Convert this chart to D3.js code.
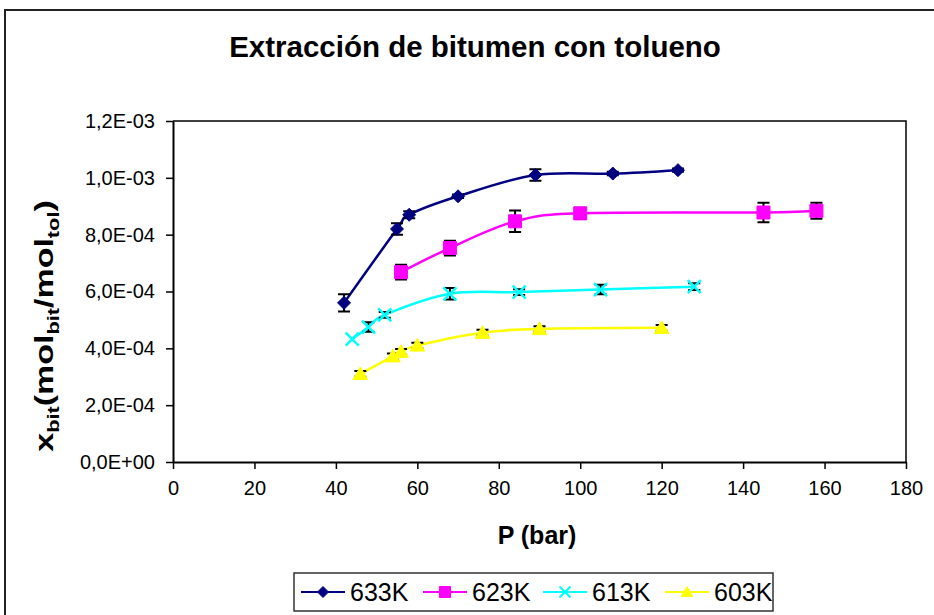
<!DOCTYPE html>
<html>
<head>
<meta charset="utf-8">
<script src="https://cdn.jsdelivr.net/npm/d3@7"></script>
<style>
  body { margin: 0; background: #fff; }
  svg { display: block; font-family: "Liberation Sans", Arial, sans-serif; }
</style>
</head>
<body>
<div class="svg-div"></div>
<script>
// data (P in bar, x_bit in mol/mol)
var seriesNames = ["633K", "623K", "613K", "603K"]

var p633 = [42, 55, 58, 70, 89, 108, 124]
var x633 = [5.6e-4, 8.2e-4, 8.7e-4, 9.35e-4, 1.01e-3, 1.015e-3, 1.027e-3]
var e633 = [0.3e-4, 0.2e-4, 0.12e-4, 0.06e-4, 0.2e-4, 0.06e-4, 0.06e-4]

var p623 = [56, 68, 84, 100, 145, 158]
var x623 = [6.68e-4, 7.53e-4, 8.47e-4, 8.75e-4, 8.78e-4, 8.84e-4]
var e623 = [0.26e-4, 0.26e-4, 0.38e-4, 0.2e-4, 0.34e-4, 0.28e-4]

var p613 = [44, 48, 52, 68, 85, 105, 128]
var x613 = [4.32e-4, 4.75e-4, 5.18e-4, 5.92e-4, 5.98e-4, 6.07e-4, 6.17e-4]
var e613 = [0, 0.17e-4, 0.1e-4, 0.2e-4, 0.1e-4, 0.17e-4, 0.12e-4]

var p603 = [46, 54, 56, 60, 76, 90, 120]
var x603 = [3.1e-4, 3.72e-4, 3.88e-4, 4.1e-4, 4.55e-4, 4.68e-4, 4.72e-4]
var e603 = [0.1e-4, 0.1e-4, 0.1e-4, 0.1e-4, 0.1e-4, 0.1e-4, 0.1e-4]

var xTicks = [0, 20, 40, 60, 80, 100, 120, 140, 160, 180]
var yTicks = [0, 2e-4, 4e-4, 6e-4, 8e-4, 1e-3, 1.2e-3]

var colors = ["#000080", "#ff00ff", "#00ffff", "#ffff00"]
var shapes = ["diamond", "square", "cross", "triangle"]

var allP = [p633, p623, p613, p603]
var allX = [x633, x623, x613, x603]
var allE = [e633, e623, e613, e603]

function excelSci(v) {
    if (v === 0) return "0,0E+00"
    var exp = Math.floor(Math.log10(Math.abs(v)) + 1e-9)
    var man = v / Math.pow(10, exp)
    var s = exp < 0 ? "-" : "+"
    var e = Math.abs(exp)
    return man.toFixed(1).replace(".", ",") + "E" + s + (e < 10 ? "0" + e : e)
}

function markerPath(type, r) {
    if (type === "diamond") return "M0," + (-r) + "L" + r + ",0L0," + r + "L" + (-r) + ",0Z"
    if (type === "square") return "M" + (-r) + "," + (-r) + "h" + 2*r + "v" + 2*r + "h" + (-2*r) + "Z"
    if (type === "cross") return "M" + (-r) + "," + (-r) + "L" + r + "," + r + "M" + r + "," + (-r) + "L" + (-r) + "," + r
    // triangle
    return "M0," + (-r) + "L" + (r*1.05) + "," + (r*0.8) + "L" + (-r*1.05) + "," + (r*0.8) + "Z"
}
var markerSize = [6.5, 6.5, 6.5, 7]

var width = 934, height = 615
var svg = d3.select(".svg-div").append("svg")
    .attr("width", width).attr("height", height)

// outer chart frame (top + left visible)
svg.append("path")
    .attr("d", "M5,615V10H934")
    .attr("fill", "none").attr("stroke", "#222").attr("stroke-width", 2)

var plotLeft = 173, plotRight = 906, plotTop = 121, plotBottom = 462

var xScale = d3.scaleLinear().domain([0, 180]).range([plotLeft, plotRight])
var yScale = d3.scaleLinear().domain([0, 1.2e-3]).range([plotBottom, plotTop])

// plot area frame top/right
svg.append("path")
    .attr("d", "M" + plotLeft + "," + plotTop + "H" + plotRight + "V" + plotBottom)
    .attr("fill", "none").attr("stroke", "#000").attr("stroke-width", 1.5)

var gx = svg.append("g").attr("transform", "translate(0," + plotBottom + ")")
gx.call(d3.axisBottom(xScale).tickValues(xTicks).tickSize(7).tickPadding(12).tickSizeOuter(0))
gx.select(".domain").attr("stroke-width", 2)
gx.selectAll(".tick line").attr("stroke-width", 1.5)
gx.selectAll("text").attr("font-size", 20).attr("font-family", "Liberation Sans, Arial, sans-serif")

var gy = svg.append("g").attr("transform", "translate(" + plotLeft + ",0)")
gy.call(d3.axisLeft(yScale).tickValues(yTicks).tickFormat(excelSci).tickSize(7).tickPadding(11).tickSizeOuter(0))
gy.select(".domain").attr("stroke-width", 2)
gy.selectAll(".tick line").attr("stroke-width", 1.5)
gy.selectAll("text").attr("font-size", 20).attr("font-family", "Liberation Sans, Arial, sans-serif")

// title
svg.append("text")
    .attr("x", 475).attr("y", 57)
    .attr("text-anchor", "middle")
    .attr("font-size", 29.5).attr("font-weight", "bold")
    .text("Extracción de bitumen con tolueno")

// x axis title
svg.append("text")
    .attr("x", 537).attr("y", 544)
    .attr("text-anchor", "middle")
    .attr("font-size", 25).attr("font-weight", "bold")
    .text("P (bar)")

// y axis title with subscripts
var yt = svg.append("g").attr("transform", "translate(53,326) rotate(-90) scale(1.36,1)")
    .append("text")
    .attr("text-anchor", "middle")
    .attr("font-size", 25).attr("font-weight", "bold")
var ytParts = [["x", 0], ["bit", 1], ["(mol", 0], ["bit", 1], ["/mol", 0], ["tol", 1], [")", 0]]
var prevSub = 0
ytParts.forEach(function (d) {
    var shift = d[1] - prevSub
    yt.append("tspan")
        .attr("dy", shift * 6)
        .attr("font-size", d[1] ? 16 : 25)
        .text(d[0])
    prevSub = d[1]
})

// series
var line = d3.line()
    .x(function (d) { return xScale(d[0]) })
    .y(function (d) { return yScale(d[1]) })
    .curve(d3.curveCardinal.tension(0))

var gLines = svg.append("g")
var gErr = svg.append("g")
var gMarks = svg.append("g")

for (var s = 0; s < 4; s++) {
    var pts = allP[s].map(function (p, i) { return [p, allX[s][i], allE[s][i]] })
    gLines.append("path")
        .datum(pts)
        .attr("d", line)
        .attr("fill", "none")
        .attr("stroke", colors[s])
        .attr("stroke-width", 2.5)

    pts.forEach(function (d) {
        if (d[2] <= 0) return
        var cx = xScale(d[0]), y1 = yScale(d[1] + d[2]), y2 = yScale(d[1] - d[2])
        gErr.append("path")
            .attr("d", "M" + cx + "," + y1 + "V" + y2 + "M" + (cx - 6) + "," + y1 + "H" + (cx + 6) + "M" + (cx - 6) + "," + y2 + "H" + (cx + 6))
            .attr("stroke", "#000").attr("stroke-width", 2).attr("fill", "none")
    })

    var shape = shapes[s], col = colors[s], ms = markerSize[s]
    gMarks.selectAll(null)
        .data(pts)
        .join("path")
        .attr("transform", function (d) { return "translate(" + xScale(d[0]) + "," + yScale(d[1]) + ")" })
        .attr("d", markerPath(shape, ms))
        .attr("fill", shape === "cross" ? "none" : col)
        .attr("stroke", col)
        .attr("stroke-width", shape === "cross" ? 2.5 : 1)
}

// legend
var lg = svg.append("g")
lg.append("rect")
    .attr("x", 294).attr("y", 573).attr("width", 479).attr("height", 38)
    .attr("fill", "#fff").attr("stroke", "#333").attr("stroke-width", 1.5)
var legendX = [301, 423, 543, 665]
seriesNames.forEach(function (name, i) {
    var x0 = legendX[i]
    lg.append("line")
        .attr("x1", x0).attr("x2", x0 + 44).attr("y1", 592).attr("y2", 592)
        .attr("stroke", colors[i]).attr("stroke-width", 2)
    lg.append("path")
        .attr("transform", "translate(" + (x0 + 22) + ",592)")
        .attr("d", markerPath(shapes[i], 5.5))
        .attr("fill", shapes[i] === "cross" ? "none" : colors[i])
        .attr("stroke", colors[i])
        .attr("stroke-width", shapes[i] === "cross" ? 2 : 1)
    lg.append("text")
        .attr("x", x0 + 49).attr("y", 601)
        .attr("font-size", 25)
        .text(name)
})
</script>
</body>
</html>
